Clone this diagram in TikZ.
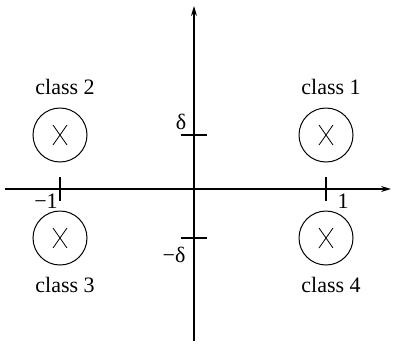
\documentclass[tikz,border=0pt]{standalone}
\usepackage{fontspec}
\setmainfont{Liberation Serif}
\usetikzlibrary{positioning,arrows.meta}
\tikzset{
  axis/.style={line width=0.6pt,-{Stealth[length=5pt,width=3pt]}},
  axistick/.style={line width=0.6pt},
  classring/.style={draw,circle,line width=0.5pt,minimum size=27pt,inner sep=0pt},
}
\begin{document}
\begin{tikzpicture}[x=0.5pt,y=-0.5pt,font=\fontsize{11}{13}\selectfont]
		\useasboundingbox (0,0) rectangle (399,343);
		%Axes
		\coordinate (xl) at (5,189);
		\coordinate (xr) at (391,189);
		\coordinate (yb) at (194,341);
		\coordinate (yt) at (194,6);
		\draw[axis] (xl)--(xr);
		\draw[axis] (yb)--(yt);
		%Ticks on both axes
		\foreach \x in {60,326}
		\draw[axistick] (\x,177)--(\x,201);
		\foreach \y in {135,238}
		\draw[axistick] (181,\y)--(207,\y);
		\node (mone) at (46,201) {−1};
		\node (one) at (343,201) {1};
		\node (delta) at (181,122) {δ};
		\node (mdelta) at (174,255) {−δ};
		%Classes with their crosses
		\foreach \n/\x/\y/\ly in {1/326/135/87,2/60/135/87,3/60/238/285,4/326/238/285}{
			\node[classring] (c\n) at (\x,\y) {};
			\draw[line width=0.4pt] ([shift={(-7,-10)}]c\n.center)--([shift={(7,10)}]c\n.center);
			\draw[line width=0.4pt] ([shift={(7,-10)}]c\n.center)--([shift={(-7,10)}]c\n.center);
			\node (l\n) at (\x+5,\ly) {class \n};
		}
\end{tikzpicture}
\end{document}
